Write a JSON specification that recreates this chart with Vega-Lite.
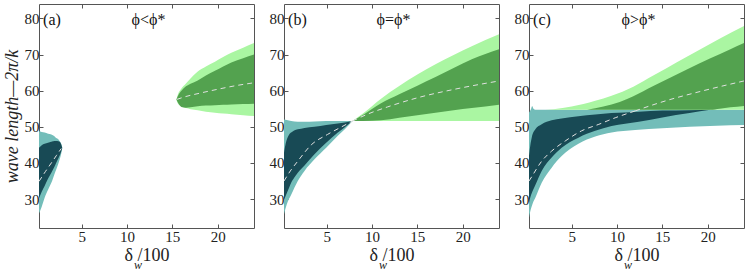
{
  "$schema": "https://vega.github.io/schema/vega-lite/v6.json",
  "padding": {"top": 3, "left": 2, "right": 0, "bottom": 0},
  "spacing": 11,
  "config": {
    "view": {"stroke": "#555555", "strokeWidth": 1},
    "axis": {"labelFont": "Liberation Serif, Times New Roman, serif", "labelFontSize": 15, "labelColor": "#222222", "titleFont": "Liberation Serif, Times New Roman, serif", "titleFontSize": 18, "titleFontWeight": "normal", "titleColor": "#222222", "grid": false, "domain": false, "tickColor": "#555555", "tickSize": -4}
  },
  "datasets": {
    "bands": [
      {"p":"a","s":"to","x":0.3,"y":26.0,"hi":48.8},{"p":"a","s":"to","x":0.6,"y":27.9,"hi":48.6},{"p":"a","s":"to","x":0.92,"y":30.4,"hi":48.4},{"p":"a","s":"to","x":1.3,"y":32.6,"hi":48.1},{"p":"a","s":"to","x":1.66,"y":34.5,"hi":47.9},{"p":"a","s":"to","x":2.0,"y":36.9,"hi":47.4},{"p":"a","s":"to","x":2.2,"y":38.2,"hi":46.9},{"p":"a","s":"to","x":2.4,"y":39.6,"hi":46.6},{"p":"a","s":"to","x":2.58,"y":41.0,"hi":46.0},{"p":"a","s":"to","x":2.75,"y":42.6,"hi":45.3},{"p":"a","s":"to","x":2.87,"y":44.2,"hi":44.2},
      {"p":"a","s":"ti","x":0.3,"y":30.2,"hi":44.2},{"p":"a","s":"ti","x":0.6,"y":32.0,"hi":44.9},{"p":"a","s":"ti","x":0.92,"y":33.6,"hi":45.3},{"p":"a","s":"ti","x":1.29,"y":35.6,"hi":45.6},{"p":"a","s":"ti","x":1.66,"y":37.3,"hi":45.9},{"p":"a","s":"ti","x":2.03,"y":39.1,"hi":46.1},{"p":"a","s":"ti","x":2.3,"y":40.6,"hi":46.1},{"p":"a","s":"ti","x":2.58,"y":42.1,"hi":45.9},{"p":"a","s":"ti","x":2.72,"y":43.0,"hi":45.3},{"p":"a","s":"ti","x":2.85,"y":44.0,"hi":44.3},
      {"p":"a","s":"go","x":15.45,"y":57.6,"hi":57.6},{"p":"a","s":"go","x":15.6,"y":56.5,"hi":58.9},{"p":"a","s":"go","x":16.0,"y":55.7,"hi":60.6},{"p":"a","s":"go","x":16.5,"y":55.2,"hi":62.0},{"p":"a","s":"go","x":17.0,"y":54.9,"hi":63.4},{"p":"a","s":"go","x":17.8,"y":54.6,"hi":65.3},{"p":"a","s":"go","x":18.7,"y":54.2,"hi":66.7},{"p":"a","s":"go","x":19.7,"y":53.9,"hi":68.0},{"p":"a","s":"go","x":20.6,"y":53.7,"hi":69.3},{"p":"a","s":"go","x":21.5,"y":53.5,"hi":70.5},{"p":"a","s":"go","x":22.8,"y":53.2,"hi":71.9},{"p":"a","s":"go","x":24.0,"y":53.0,"hi":73.2},
      {"p":"a","s":"gi","x":15.45,"y":57.6,"hi":57.6},{"p":"a","s":"gi","x":15.6,"y":56.8,"hi":58.5},{"p":"a","s":"gi","x":16.0,"y":55.5,"hi":60.0},{"p":"a","s":"gi","x":16.5,"y":55.3,"hi":61.2},{"p":"a","s":"gi","x":17.0,"y":55.4,"hi":61.9},{"p":"a","s":"gi","x":17.8,"y":55.7,"hi":62.8},{"p":"a","s":"gi","x":18.7,"y":55.9,"hi":64.2},{"p":"a","s":"gi","x":19.7,"y":56.0,"hi":65.5},{"p":"a","s":"gi","x":20.6,"y":56.1,"hi":66.7},{"p":"a","s":"gi","x":21.5,"y":56.2,"hi":67.8},{"p":"a","s":"gi","x":22.8,"y":56.3,"hi":69.0},{"p":"a","s":"gi","x":24.0,"y":56.4,"hi":70.0},

      {"p":"b","s":"to","x":0.3,"y":25.8,"hi":52.0},{"p":"b","s":"to","x":0.6,"y":28.5,"hi":51.9},{"p":"b","s":"to","x":1.09,"y":31.2,"hi":51.6},{"p":"b","s":"to","x":1.82,"y":35.0,"hi":51.4},{"p":"b","s":"to","x":2.56,"y":37.8,"hi":51.4},{"p":"b","s":"to","x":3.66,"y":41.0,"hi":51.5},{"p":"b","s":"to","x":4.95,"y":44.2,"hi":51.6},{"p":"b","s":"to","x":6.23,"y":47.5,"hi":51.6},{"p":"b","s":"to","x":7.0,"y":49.3,"hi":51.6},{"p":"b","s":"to","x":7.85,"y":51.6,"hi":51.6},
      {"p":"b","s":"ti","x":0.3,"y":29.8,"hi":42.8},{"p":"b","s":"ti","x":0.5,"y":31.0,"hi":45.5},{"p":"b","s":"ti","x":0.87,"y":33.2,"hi":47.9},{"p":"b","s":"ti","x":1.09,"y":34.5,"hi":48.4},{"p":"b","s":"ti","x":1.42,"y":35.9,"hi":49.0},{"p":"b","s":"ti","x":1.82,"y":37.3,"hi":49.3},{"p":"b","s":"ti","x":2.56,"y":39.3,"hi":49.7},{"p":"b","s":"ti","x":3.66,"y":42.4,"hi":50.0},{"p":"b","s":"ti","x":4.95,"y":45.6,"hi":50.5},{"p":"b","s":"ti","x":6.23,"y":48.4,"hi":50.9},{"p":"b","s":"ti","x":7.0,"y":49.9,"hi":51.2},{"p":"b","s":"ti","x":7.85,"y":51.6,"hi":51.6},
      {"p":"b","s":"go","x":7.85,"y":51.6,"hi":51.6},{"p":"b","s":"go","x":9.0,"y":51.6,"hi":53.7},{"p":"b","s":"go","x":11.0,"y":51.6,"hi":57.8},{"p":"b","s":"go","x":13.0,"y":51.6,"hi":61.3},{"p":"b","s":"go","x":15.0,"y":51.6,"hi":64.5},{"p":"b","s":"go","x":17.0,"y":51.6,"hi":67.3},{"p":"b","s":"go","x":19.0,"y":51.6,"hi":69.9},{"p":"b","s":"go","x":21.0,"y":51.6,"hi":72.3},{"p":"b","s":"go","x":24.0,"y":51.6,"hi":75.6},
      {"p":"b","s":"gi","x":7.85,"y":51.6,"hi":51.6},{"p":"b","s":"gi","x":9.0,"y":51.6,"hi":53.3},{"p":"b","s":"gi","x":11.0,"y":51.8,"hi":56.5},{"p":"b","s":"gi","x":13.0,"y":52.5,"hi":59.0},{"p":"b","s":"gi","x":15.0,"y":53.2,"hi":61.4},{"p":"b","s":"gi","x":17.0,"y":53.9,"hi":63.8},{"p":"b","s":"gi","x":19.0,"y":54.6,"hi":66.3},{"p":"b","s":"gi","x":21.0,"y":55.2,"hi":68.7},{"p":"b","s":"gi","x":24.0,"y":56.1,"hi":71.5},

      {"p":"c","s":"to","x":0.3,"y":24.9,"hi":54.0},{"p":"c","s":"to","x":0.5,"y":27.2,"hi":54.8},{"p":"c","s":"to","x":0.65,"y":28.4,"hi":55.8},{"p":"c","s":"to","x":0.8,"y":29.4,"hi":55.0},{"p":"c","s":"to","x":1.0,"y":30.4,"hi":54.7},{"p":"c","s":"to","x":1.7,"y":34.5,"hi":54.7},{"p":"c","s":"to","x":2.8,"y":38.7,"hi":54.7},{"p":"c","s":"to","x":3.9,"y":41.9,"hi":54.7},{"p":"c","s":"to","x":5.75,"y":45.3,"hi":54.7},{"p":"c","s":"to","x":7.6,"y":47.3,"hi":54.7},{"p":"c","s":"to","x":9.4,"y":48.4,"hi":54.7},{"p":"c","s":"to","x":12.0,"y":49.1,"hi":54.7},{"p":"c","s":"to","x":15.0,"y":49.6,"hi":54.7},{"p":"c","s":"to","x":18.0,"y":50.0,"hi":54.7},{"p":"c","s":"to","x":21.0,"y":50.3,"hi":54.7},{"p":"c","s":"to","x":24.0,"y":50.5,"hi":54.7},
      {"p":"c","s":"ti","x":0.3,"y":29.0,"hi":42.0},{"p":"c","s":"ti","x":0.45,"y":30.5,"hi":45.0},{"p":"c","s":"ti","x":0.6,"y":31.6,"hi":47.0},{"p":"c","s":"ti","x":1.0,"y":33.9,"hi":49.3},{"p":"c","s":"ti","x":1.7,"y":37.8,"hi":50.7},{"p":"c","s":"ti","x":2.8,"y":41.5,"hi":51.8},{"p":"c","s":"ti","x":3.9,"y":44.2,"hi":52.3},{"p":"c","s":"ti","x":5.75,"y":47.0,"hi":52.9},{"p":"c","s":"ti","x":7.6,"y":48.9,"hi":53.4},{"p":"c","s":"ti","x":9.4,"y":50.2,"hi":53.8},{"p":"c","s":"ti","x":12.4,"y":51.4,"hi":54.2},{"p":"c","s":"ti","x":15.0,"y":52.6,"hi":54.5},{"p":"c","s":"ti","x":18.0,"y":53.8,"hi":54.6},{"p":"c","s":"ti","x":20.3,"y":54.7,"hi":54.7},
      {"p":"c","s":"go","x":1.3,"y":54.7,"hi":54.7},{"p":"c","s":"go","x":3.0,"y":54.7,"hi":54.9},{"p":"c","s":"go","x":5.0,"y":54.7,"hi":55.6},{"p":"c","s":"go","x":7.6,"y":54.7,"hi":57.2},{"p":"c","s":"go","x":9.4,"y":54.7,"hi":58.6},{"p":"c","s":"go","x":11.8,"y":54.7,"hi":61.1},{"p":"c","s":"go","x":14.0,"y":54.7,"hi":64.2},{"p":"c","s":"go","x":15.5,"y":54.7,"hi":66.3},{"p":"c","s":"go","x":17.7,"y":54.7,"hi":69.4},{"p":"c","s":"go","x":19.2,"y":54.7,"hi":71.5},{"p":"c","s":"go","x":21.3,"y":54.7,"hi":74.4},{"p":"c","s":"go","x":24.0,"y":54.7,"hi":77.9},
      {"p":"c","s":"gi","x":6.7,"y":54.7,"hi":54.7},{"p":"c","s":"gi","x":8.5,"y":54.7,"hi":55.6},{"p":"c","s":"gi","x":10.3,"y":54.7,"hi":56.9},{"p":"c","s":"gi","x":11.8,"y":54.7,"hi":58.5},{"p":"c","s":"gi","x":14.0,"y":54.7,"hi":61.3},{"p":"c","s":"gi","x":17.7,"y":54.7,"hi":65.9},{"p":"c","s":"gi","x":20.3,"y":54.7,"hi":69.0},{"p":"c","s":"gi","x":21.3,"y":55.0,"hi":70.1},{"p":"c","s":"gi","x":22.5,"y":55.4,"hi":71.5},{"p":"c","s":"gi","x":24.0,"y":55.8,"hi":73.2}
    ],
    "mid": [
      {"p":"a","s":"t","x":0.3,"y":34.9},{"p":"a","s":"t","x":1.0,"y":37.6},{"p":"a","s":"t","x":1.66,"y":40.0},{"p":"a","s":"t","x":2.2,"y":42.0},{"p":"a","s":"t","x":2.75,"y":44.0},
      {"p":"a","s":"g","x":15.5,"y":57.6},{"p":"a","s":"g","x":16.5,"y":58.4},{"p":"a","s":"g","x":18.0,"y":59.3},{"p":"a","s":"g","x":20.0,"y":60.4},{"p":"a","s":"g","x":22.0,"y":61.4},{"p":"a","s":"g","x":24.0,"y":62.2},
      {"p":"b","s":"t","x":0.3,"y":35.0},{"p":"b","s":"t","x":1.0,"y":37.8},{"p":"b","s":"t","x":1.82,"y":40.5},{"p":"b","s":"t","x":3.3,"y":45.0},{"p":"b","s":"t","x":5.1,"y":47.9},{"p":"b","s":"t","x":6.5,"y":49.8},{"p":"b","s":"t","x":7.85,"y":51.6},
      {"p":"b","s":"g","x":7.85,"y":51.6},{"p":"b","s":"g","x":9.5,"y":53.5},{"p":"b","s":"g","x":11.7,"y":55.5},{"p":"b","s":"g","x":15.4,"y":58.3},{"p":"b","s":"g","x":19.1,"y":60.4},{"p":"b","s":"g","x":24.0,"y":62.7},
      {"p":"c","s":"t","x":0.3,"y":35.0},{"p":"c","s":"t","x":0.6,"y":36.2},{"p":"c","s":"t","x":1.7,"y":40.5},{"p":"c","s":"t","x":2.8,"y":43.3},{"p":"c","s":"t","x":4.3,"y":46.1},{"p":"c","s":"t","x":6.1,"y":48.9},{"p":"c","s":"t","x":8.0,"y":50.7},{"p":"c","s":"t","x":9.8,"y":52.5},{"p":"c","s":"t","x":12.0,"y":54.4},
      {"p":"c","s":"g","x":12.0,"y":54.4},{"p":"c","s":"g","x":13.5,"y":55.7},{"p":"c","s":"g","x":15.5,"y":57.3},{"p":"c","s":"g","x":19.2,"y":59.8},{"p":"c","s":"g","x":24.0,"y":62.7}
    ],
    "labels": [
      {"p":"a","x":0.75,"y":79.6,"t":"(a)"},{"p":"a","x":10.5,"y":79.6,"t":"ϕ<ϕ*"},
      {"p":"b","x":0.75,"y":79.6,"t":"(b)"},{"p":"b","x":10.5,"y":79.6,"t":"ϕ=ϕ*"},
      {"p":"c","x":0.75,"y":79.6,"t":"(c)"},{"p":"c","x":10.5,"y":79.6,"t":"ϕ>ϕ*"}
    ],
    "sub": [
      {"p":"a","x":11.2,"y":11.8,"t":"w"},{"p":"b","x":11.2,"y":11.8,"t":"w"},{"p":"c","x":11.2,"y":11.8,"t":"w"}
    ]
  },
  "hconcat": [
    {
      "width": 215, "height": 224,
      "resolve": {"axis": {"x": "independent", "y": "independent"}},
      "encoding": {
        "x": {"field": "x", "type": "quantitative", "scale": {"domain": [0.3, 24], "nice": false}, "axis": null},
        "y": {"field": "y", "type": "quantitative", "scale": {"domain": [22, 84], "nice": false}, "axis": null}
      },
      "layer": [
        {"data": {"name": "bands"}, "transform": [{"filter": "datum.p==='a' && datum.s[1]==='o'"}], "mark": {"type": "area", "interpolate": "monotone"},
         "encoding": {
           "x": {"field": "x", "type": "quantitative", "scale": {"domain": [0.3, 24], "nice": false}, "axis": {"values": [5, 10, 15, 20], "title": "δ  /100", "labelPadding": 5, "titlePadding": 2}},
           "y": {"field": "y", "type": "quantitative", "scale": {"domain": [22, 84], "nice": false}, "axis": {"values": [30, 40, 50, 60, 70, 80], "title": "wave length—2π/k", "titleFontStyle": "italic", "labelPadding": 4, "titlePadding": 3}},
           "y2": {"field": "hi"}, "color": {"field": "s", "type": "nominal", "scale": {"domain": ["to", "ti", "go", "gi"], "range": ["#73bdb9", "#184a55", "#aaf6a2", "#53a24f"]}, "legend": null}}},
        {"data": {"name": "bands"}, "transform": [{"filter": "datum.p==='a' && datum.s[1]==='i'"}], "mark": {"type": "area", "interpolate": "monotone"},
         "encoding": {"y2": {"field": "hi"}, "color": {"field": "s", "type": "nominal", "scale": {"domain": ["to", "ti", "go", "gi"], "range": ["#73bdb9", "#184a55", "#aaf6a2", "#53a24f"]}, "legend": null}}},
        {"data": {"name": "mid"}, "transform": [{"filter": "datum.p==='a'"}], "mark": {"type": "line", "interpolate": "monotone", "color": "#e0e0e0", "strokeWidth": 1, "strokeDash": [5, 4]},
         "encoding": {
           "x": {"field": "x", "type": "quantitative", "scale": {"domain": [0.3, 24], "nice": false}, "axis": {"orient": "top", "values": [5, 10, 15, 20], "labels": false, "title": null}},
           "y": {"field": "y", "type": "quantitative", "scale": {"domain": [22, 84], "nice": false}, "axis": {"orient": "right", "values": [30, 40, 50, 60, 70, 80], "labels": false, "title": null}},
           "detail": {"field": "s"}}},
        {"data": {"name": "labels"}, "transform": [{"filter": "datum.p==='a'"}], "mark": {"type": "text", "align": "left", "baseline": "middle", "font": "Liberation Serif, Times New Roman, serif", "fontSize": 16, "color": "#111111"},
         "encoding": {"text": {"field": "t"}}},
        {"data": {"name": "sub"}, "transform": [{"filter": "datum.p==='a'"}], "mark": {"type": "text", "align": "center", "baseline": "middle", "font": "Liberation Serif, Times New Roman, serif", "fontSize": 12, "fontStyle": "italic", "color": "#222222"},
         "encoding": {"text": {"field": "t"}}}
      ]
    },
    {
      "width": 215, "height": 224,
      "resolve": {"axis": {"x": "independent", "y": "independent"}},
      "encoding": {
        "x": {"field": "x", "type": "quantitative", "scale": {"domain": [0.3, 24], "nice": false}, "axis": null},
        "y": {"field": "y", "type": "quantitative", "scale": {"domain": [22, 84], "nice": false}, "axis": null}
      },
      "layer": [
        {"data": {"name": "bands"}, "transform": [{"filter": "datum.p==='b' && datum.s[1]==='o'"}], "mark": {"type": "area", "interpolate": "monotone"},
         "encoding": {
           "x": {"field": "x", "type": "quantitative", "scale": {"domain": [0.3, 24], "nice": false}, "axis": {"values": [5, 10, 15, 20], "title": "δ  /100", "labelPadding": 5, "titlePadding": 2}},
           "y": {"field": "y", "type": "quantitative", "scale": {"domain": [22, 84], "nice": false}, "axis": {"values": [30, 40, 50, 60, 70, 80], "title": null, "labelPadding": 4}},
           "y2": {"field": "hi"}, "color": {"field": "s", "type": "nominal", "scale": {"domain": ["to", "ti", "go", "gi"], "range": ["#73bdb9", "#184a55", "#aaf6a2", "#53a24f"]}, "legend": null}}},
        {"data": {"name": "bands"}, "transform": [{"filter": "datum.p==='b' && datum.s[1]==='i'"}], "mark": {"type": "area", "interpolate": "monotone"},
         "encoding": {"y2": {"field": "hi"}, "color": {"field": "s", "type": "nominal", "scale": {"domain": ["to", "ti", "go", "gi"], "range": ["#73bdb9", "#184a55", "#aaf6a2", "#53a24f"]}, "legend": null}}},
        {"data": {"name": "mid"}, "transform": [{"filter": "datum.p==='b'"}], "mark": {"type": "line", "interpolate": "monotone", "color": "#e0e0e0", "strokeWidth": 1, "strokeDash": [5, 4]},
         "encoding": {
           "x": {"field": "x", "type": "quantitative", "scale": {"domain": [0.3, 24], "nice": false}, "axis": {"orient": "top", "values": [5, 10, 15, 20], "labels": false, "title": null}},
           "y": {"field": "y", "type": "quantitative", "scale": {"domain": [22, 84], "nice": false}, "axis": {"orient": "right", "values": [30, 40, 50, 60, 70, 80], "labels": false, "title": null}},
           "detail": {"field": "s"}}},
        {"data": {"name": "labels"}, "transform": [{"filter": "datum.p==='b'"}], "mark": {"type": "text", "align": "left", "baseline": "middle", "font": "Liberation Serif, Times New Roman, serif", "fontSize": 16, "color": "#111111"},
         "encoding": {"text": {"field": "t"}}},
        {"data": {"name": "sub"}, "transform": [{"filter": "datum.p==='b'"}], "mark": {"type": "text", "align": "center", "baseline": "middle", "font": "Liberation Serif, Times New Roman, serif", "fontSize": 12, "fontStyle": "italic", "color": "#222222"},
         "encoding": {"text": {"field": "t"}}}
      ]
    },
    {
      "width": 215, "height": 224,
      "resolve": {"axis": {"x": "independent", "y": "independent"}},
      "encoding": {
        "x": {"field": "x", "type": "quantitative", "scale": {"domain": [0.3, 24], "nice": false}, "axis": null},
        "y": {"field": "y", "type": "quantitative", "scale": {"domain": [22, 84], "nice": false}, "axis": null}
      },
      "layer": [
        {"data": {"name": "bands"}, "transform": [{"filter": "datum.p==='c' && datum.s[1]==='o'"}], "mark": {"type": "area", "interpolate": "monotone"},
         "encoding": {
           "x": {"field": "x", "type": "quantitative", "scale": {"domain": [0.3, 24], "nice": false}, "axis": {"values": [5, 10, 15, 20], "title": "δ  /100", "labelPadding": 5, "titlePadding": 2}},
           "y": {"field": "y", "type": "quantitative", "scale": {"domain": [22, 84], "nice": false}, "axis": {"values": [30, 40, 50, 60, 70, 80], "title": null, "labelPadding": 4}},
           "y2": {"field": "hi"}, "color": {"field": "s", "type": "nominal", "scale": {"domain": ["to", "ti", "go", "gi"], "range": ["#73bdb9", "#184a55", "#aaf6a2", "#53a24f"]}, "legend": null}}},
        {"data": {"name": "bands"}, "transform": [{"filter": "datum.p==='c' && datum.s[1]==='i'"}], "mark": {"type": "area", "interpolate": "monotone"},
         "encoding": {"y2": {"field": "hi"}, "color": {"field": "s", "type": "nominal", "scale": {"domain": ["to", "ti", "go", "gi"], "range": ["#73bdb9", "#184a55", "#aaf6a2", "#53a24f"]}, "legend": null}}},
        {"data": {"name": "mid"}, "transform": [{"filter": "datum.p==='c'"}], "mark": {"type": "line", "interpolate": "monotone", "color": "#e0e0e0", "strokeWidth": 1, "strokeDash": [5, 4]},
         "encoding": {
           "x": {"field": "x", "type": "quantitative", "scale": {"domain": [0.3, 24], "nice": false}, "axis": {"orient": "top", "values": [5, 10, 15, 20], "labels": false, "title": null}},
           "y": {"field": "y", "type": "quantitative", "scale": {"domain": [22, 84], "nice": false}, "axis": {"orient": "right", "values": [30, 40, 50, 60, 70, 80], "labels": false, "title": null}},
           "detail": {"field": "s"}}},
        {"data": {"name": "labels"}, "transform": [{"filter": "datum.p==='c'"}], "mark": {"type": "text", "align": "left", "baseline": "middle", "font": "Liberation Serif, Times New Roman, serif", "fontSize": 16, "color": "#111111"},
         "encoding": {"text": {"field": "t"}}},
        {"data": {"name": "sub"}, "transform": [{"filter": "datum.p==='c'"}], "mark": {"type": "text", "align": "center", "baseline": "middle", "font": "Liberation Serif, Times New Roman, serif", "fontSize": 12, "fontStyle": "italic", "color": "#222222"},
         "encoding": {"text": {"field": "t"}}}
      ]
    }
  ]
}
